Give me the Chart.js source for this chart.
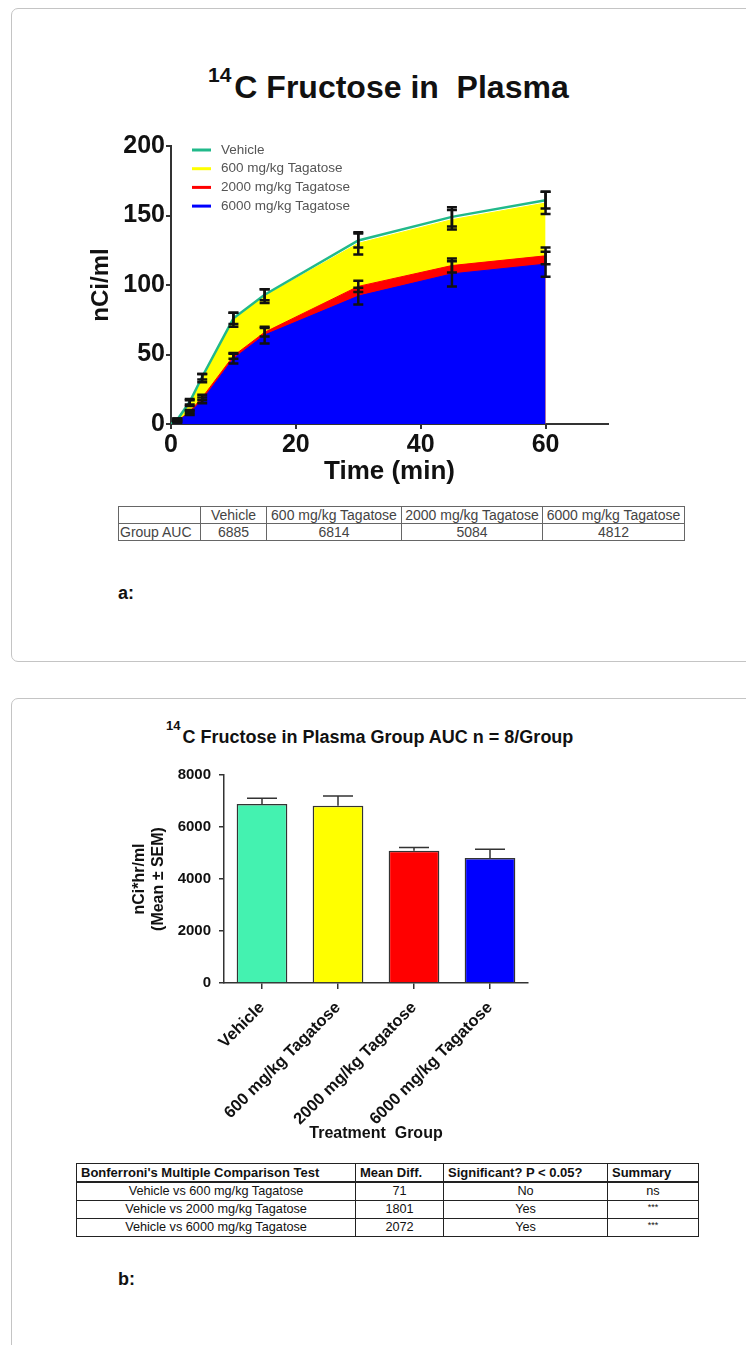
<!DOCTYPE html>
<html>
<head>
<meta charset="utf-8">
<title>14C Fructose in Plasma</title>
<script src="https://cdn.jsdelivr.net/npm/chart.js@4.4.1/dist/chart.umd.min.js"></script>
<style>
    html, body { margin: 0; padding: 0; background: #fff; }
    body {
        position: relative; width: 746px; height: 1345px; overflow: hidden;
        font-family: "Liberation Sans", Arial, Helvetica, sans-serif;
    }
    .card {
        position: absolute; left: 11px; width: 800px;
        border: 1.5px solid #c4c4c4; border-radius: 7px; box-sizing: border-box;
    }
    .txt { position: absolute; white-space: pre; line-height: 1; font-weight: bold; color: #111; }
    .txt .sup { position: relative; }
    .box { position: absolute; }
    table { position: absolute; border-collapse: collapse; table-layout: fixed; }
    #aucTable { left: 118px; top: 506px; width: 566px; font-size: 14px; color: #444; }
    #aucTable td { border: 1px solid #666; height: 16px; line-height: 16px; padding: 0 1px;
                   text-align: center; white-space: nowrap; overflow: hidden; }
    #aucTable td.rowhead { text-align: left; }
    #bonfTable { left: 76px; top: 1163px; width: 622px; font-size: 12.7px; color: #111;
                 border: 1.5px solid #222; }
    #bonfTable td { border: 1px solid #222; height: 17px; line-height: 17px; padding: 0;
                    text-align: center; white-space: nowrap; overflow: hidden; }
    #bonfTable tr.head td { font-weight: bold; text-align: left; padding-left: 4px;
                            font-size: 13px; border-bottom: 2px solid #222; height: 17px; }
    #bonfTable td.stars { font-size: 9px; vertical-align: top; line-height: 12px; }
</style>
</head>
<body>

<div class="card" style="top:8px;height:654px;"></div>
<div class="card" style="top:698px;height:700px;"></div>

<div class="txt" style="left:208px;top:71px;font-size:32px;"><span class="sup" style="font-size:21px;top:-16px;margin-right:3px;">14</span>C Fructose in  Plasma</div>
<div class="box" style="left:85px;top:120px;width:553px;height:371px;"><canvas id="timeChart"></canvas></div>
<table id="aucTable"></table>
<div class="txt" style="left:118px;top:584px;font-size:18px;">a:</div>

<div class="txt" style="left:166px;top:728px;font-size:18px;"><span class="sup" style="font-size:13px;top:-13px;margin-right:2px;">14</span>C Fructose in Plasma Group AUC n = 8/Group</div>
<div class="box" style="left:126px;top:755px;width:422px;height:392px;"><canvas id="aucChart"></canvas></div>
<table id="bonfTable"></table>
<div class="txt" style="left:118px;top:1270px;font-size:18px;">b:</div>

<script>
    "use strict";

    // time course (min) and group means / SEM, nCi/ml
    var timePoints = [0, 1, 3, 5, 10, 15, 30, 45, 60];
    var vehicleMean = [0, 3, 16, 34, 76, 93, 132, 149, 161];
    var vehicleSem = [0, 1, 2, 2, 4, 4, 5, 7, 6];
    var tag600Mean = [0, 3, 15, 33, 75, 92, 130, 147, 159];
    var tag600Sem = [0, 1, 2, 3, 5, 5, 8, 7, 8];
    var tag2000Mean = [0, 2, 9, 19, 49, 66, 99, 114, 121];
    var tag2000Sem = [0, 1, 1, 2, 2, 3, 4, 5, 6];
    var tag6000Mean = [0, 2, 8, 17, 47, 64, 92, 108, 115];
    var tag6000Sem = [0, 1, 1.5, 2, 3.5, 6, 6, 9, 9];

    var timeTicks = [0, 20, 40, 60];
    var concTicks = [0, 50, 100, 150, 200];

    // group AUC
    var groupNames = ['Vehicle', '600 mg/kg Tagatose', '2000 mg/kg Tagatose', '6000 mg/kg Tagatose'];
    var groupAuc = [6885, 6814, 5084, 4812];
    var groupAucSem = [220, 380, 130, 330];
    var aucTicks = [0, 2000, 4000, 6000, 8000];

    // Bonferroni table
    var comparisonNames = ['Vehicle vs 600  mg/kg Tagatose', 'Vehicle vs 2000 mg/kg Tagatose', 'Vehicle vs 6000 mg/kg Tagatose'];
    var meanDiffs = [71, 1801, 2072];
    var significant = ['No', 'Yes', 'Yes'];
    var summaries = ['ns', '***', '***'];

    var FONT = '"Liberation Sans", Arial, Helvetica, sans-serif';
    Chart.defaults.font.family = FONT;
    Chart.defaults.color = '#111';
    Chart.defaults.animation = false;

    function points(means) {
        return timePoints.map(function (t, i) { return {x: t, y: means[i]}; });
    }

    // draws mean +/- SEM whiskers for datasets carrying an `errors` array
    var errorBars = {
        id: 'errorBars',
        afterDatasetsDraw: function (chart, args, opts) {
            var ctx = chart.ctx;
            var yScale = chart.scales.y;
            chart.data.datasets.forEach(function (ds, i) {
                if (!ds.errors) return;
                var meta = chart.getDatasetMeta(i);
                ctx.save();
                ctx.strokeStyle = opts.color;
                ctx.lineWidth = opts.width;
                meta.data.forEach(function (el, j) {
                    var raw = ds.data[j];
                    var value = typeof raw === 'object' ? raw.y : raw;
                    var err = ds.errors[j];
                    if (!err) return;
                    var top = yScale.getPixelForValue(value + err);
                    var bottom = opts.upperOnly ? el.y : yScale.getPixelForValue(value - err);
                    ctx.beginPath();
                    ctx.moveTo(el.x, top);
                    ctx.lineTo(el.x, bottom);
                    ctx.moveTo(el.x - opts.cap, top);
                    ctx.lineTo(el.x + opts.cap, top);
                    if (!opts.upperOnly) {
                        ctx.moveTo(el.x - opts.cap, bottom);
                        ctx.lineTo(el.x + opts.cap, bottom);
                    }
                    ctx.stroke();
                });
                ctx.restore();
            });
        }
    };

    // legend drawn inside the plot area, top left
    var insideLegend = {
        id: 'insideLegend',
        afterDraw: function (chart, args, opts) {
            var ctx = chart.ctx;
            var area = chart.chartArea;
            ctx.save();
            ctx.font = opts.fontSize + 'px ' + FONT;
            ctx.textBaseline = 'middle';
            chart.data.datasets.forEach(function (ds, i) {
                var y = area.top + opts.top + i * opts.rowHeight;
                var x = area.left + opts.left;
                ctx.strokeStyle = ds.borderColor;
                ctx.lineWidth = 3;
                ctx.beginPath();
                ctx.moveTo(x, y);
                ctx.lineTo(x + 19, y);
                ctx.stroke();
                ctx.fillStyle = opts.color;
                ctx.fillText(ds.label, x + 29, y);
            });
            ctx.restore();
        }
    };

    function fixedWidth(w) { return function (scale) { scale.width = w; }; }
    function fixedHeight(h) { return function (scale) { scale.height = h; }; }
    function plain(value) { return String(value); }

    new Chart(document.getElementById('timeChart'), {
        type: 'line',
        data: {
            datasets: [{
                label: groupNames[0], data: points(vehicleMean), errors: vehicleSem,
                borderColor: '#21b98a', borderWidth: 2.5, fill: false, order: 0
            }, {
                label: groupNames[1], data: points(tag600Mean), errors: tag600Sem,
                borderColor: '#ffff00', backgroundColor: '#ffff00', borderWidth: 1, fill: 'origin', order: 3
            }, {
                label: groupNames[2], data: points(tag2000Mean), errors: tag2000Sem,
                borderColor: '#ff0000', backgroundColor: '#ff0000', borderWidth: 1, fill: 'origin', order: 2
            }, {
                label: groupNames[3], data: points(tag6000Mean), errors: tag6000Sem,
                borderColor: '#0000ff', backgroundColor: '#0000ff', borderWidth: 1, fill: 'origin', order: 1
            }]
        },
        options: {
            responsive: true,
            maintainAspectRatio: false,
            layout: {padding: {top: 26, right: 30, left: 0, bottom: 0}},
            elements: {point: {radius: 0, hoverRadius: 0}, line: {tension: 0}},
            scales: {
                x: {
                    type: 'linear', min: 0, max: 70,
                    afterFit: fixedHeight(67),
                    afterBuildTicks: function (scale) {
                        scale.ticks = timeTicks.map(function (v) { return {value: v}; });
                    },
                    border: {color: '#333', width: 2},
                    grid: {drawOnChartArea: false, drawTicks: true, tickLength: 5, color: '#333', lineWidth: 2},
                    ticks: {font: {size: 25, weight: 'bold'}, color: '#111', padding: 1, maxRotation: 0, callback: plain},
                    title: {display: true, text: 'Time (min)', font: {size: 26, weight: 'bold'}, color: '#111', padding: 4}
                },
                y: {
                    min: 0, max: 200,
                    afterFit: fixedWidth(86),
                    afterBuildTicks: function (scale) {
                        scale.ticks = concTicks.map(function (v) { return {value: v}; });
                    },
                    border: {color: '#333', width: 2},
                    grid: {drawOnChartArea: false, drawTicks: true, tickLength: 5, color: '#333', lineWidth: 2},
                    ticks: {font: {size: 25, weight: 'bold'}, color: '#111', padding: 1, callback: plain},
                    title: {display: true, text: 'nCi/ml', font: {size: 24, weight: 'bold'}, color: '#111', padding: 2}
                }
            },
            plugins: {
                legend: {display: false},
                tooltip: {enabled: false},
                errorBars: {color: '#111', width: 2.5, cap: 5, upperOnly: false},
                insideLegend: {left: 21, top: 4, rowHeight: 18.7, fontSize: 13.5, color: '#555'}
            }
        },
        plugins: [errorBars, insideLegend]
    });

    new Chart(document.getElementById('aucChart'), {
        type: 'bar',
        data: {
            labels: groupNames,
            datasets: [{
                label: 'Group AUC',
                data: groupAuc,
                errors: groupAucSem,
                backgroundColor: ['#44f2b0', '#ffff00', '#ff0000', '#0000ff'],
                borderColor: '#333',
                borderWidth: 1.5,
                barPercentage: 0.667,
                categoryPercentage: 1
            }]
        },
        options: {
            responsive: true,
            maintainAspectRatio: false,
            layout: {padding: {top: 20, right: 20, left: 0, bottom: 0}},
            scales: {
                x: {
                    afterFit: fixedHeight(164),
                    border: {color: '#333', width: 1.5},
                    grid: {offset: false, drawOnChartArea: false, drawTicks: true, tickLength: 6, color: '#333', lineWidth: 1.5},
                    ticks: {font: {size: 16.5, weight: 'bold'}, color: '#111', minRotation: 45, maxRotation: 45, autoSkip: false, padding: 9},
                    title: {display: true, text: 'Treatment  Group', font: {size: 16, weight: 'bold'}, color: '#111', padding: 4}
                },
                y: {
                    min: 0, max: 8000,
                    afterFit: fixedWidth(98),
                    afterBuildTicks: function (scale) {
                        scale.ticks = aucTicks.map(function (v) { return {value: v}; });
                    },
                    border: {color: '#333', width: 1.5},
                    grid: {drawOnChartArea: false, drawTicks: true, tickLength: 5, color: '#333', lineWidth: 1.5},
                    ticks: {font: {size: 15, weight: 'bold'}, color: '#111', padding: 8, callback: plain},
                    title: {display: true, text: ['nCi*hr/ml', '(Mean \u00b1 SEM)'], font: {size: 16, weight: 'bold'}, color: '#111', padding: 4}
                }
            },
            plugins: {
                legend: {display: false},
                tooltip: {enabled: false},
                errorBars: {color: '#333', width: 1.5, cap: 15, upperOnly: true}
            }
        },
        plugins: [errorBars]
    });

    // tables
    function cell(tr, text, cls) {
        var td = document.createElement('td');
        td.textContent = text;
        if (cls) td.className = cls;
        tr.appendChild(td);
        return td;
    }

    function colgroup(table, widths) {
        var cg = document.createElement('colgroup');
        widths.forEach(function (w) {
            var c = document.createElement('col');
            c.style.width = w + 'px';
            cg.appendChild(c);
        });
        table.appendChild(cg);
    }

    var aucTable = document.getElementById('aucTable');
    colgroup(aucTable, [82, 66, 135, 141, 142]);
    var head = document.createElement('tr');
    cell(head, '');
    groupNames.forEach(function (n) { cell(head, n); });
    aucTable.appendChild(head);
    var row = document.createElement('tr');
    cell(row, 'Group AUC', 'rowhead');
    groupAuc.forEach(function (v) { cell(row, String(v)); });
    aucTable.appendChild(row);

    var bonfTable = document.getElementById('bonfTable');
    colgroup(bonfTable, [279, 88, 164, 91]);
    var bhead = document.createElement('tr');
    bhead.className = 'head';
    ["Bonferroni's  Multiple Comparison  Test", 'Mean Diff.', 'Significant? P < 0.05?', 'Summary'].forEach(function (h) {
        cell(bhead, h);
    });
    bonfTable.appendChild(bhead);
    comparisonNames.forEach(function (name, i) {
        var tr = document.createElement('tr');
        cell(tr, name);
        cell(tr, String(meanDiffs[i]));
        cell(tr, significant[i]);
        cell(tr, summaries[i], summaries[i] === 'ns' ? '' : 'stars');
        bonfTable.appendChild(tr);
    });
</script>
</body>
</html>
